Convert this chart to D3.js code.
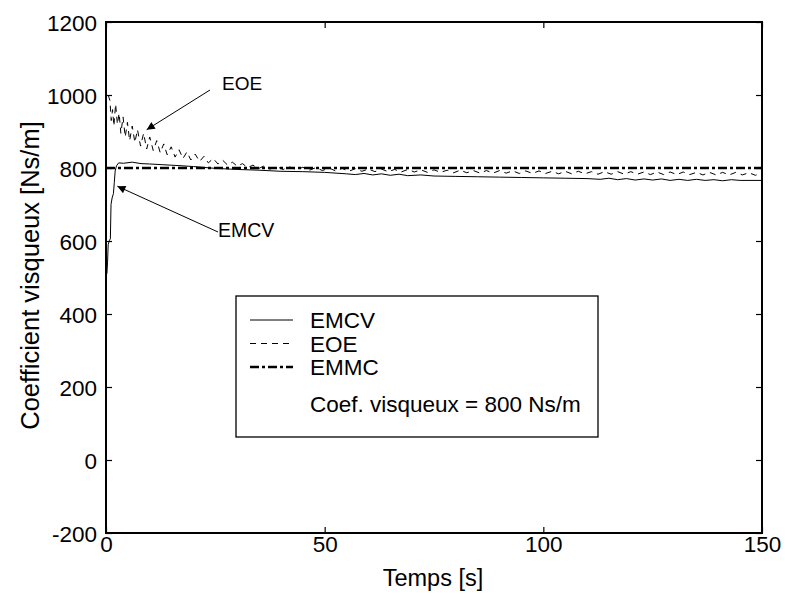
<!DOCTYPE html>
<html>
<head>
<meta charset="utf-8">
<script src="https://cdn.jsdelivr.net/npm/d3@7"></script>
<style>
  html, body { margin: 0; padding: 0; background: #fff; }
  svg { display: block; }
  text { font-family: "Liberation Sans", Arial, Helvetica, sans-serif; fill: #000; }
</style>
</head>
<body>
<svg id="chart" width="785" height="596"></svg>
<script>
// Axis settings
const xTicks = [0, 50, 100, 150];
const yTicks = [-200, 0, 200, 400, 600, 800, 1000, 1200];
const xDomain = [0, 150];
const yDomain = [-200, 1200];

// EMCV estimate [time s, coefficient Ns/m]
const emcv = [
  [0.2, 510], [0.35, 540], [0.5, 590], [0.8, 602], [1.0, 606], [1.15, 700],
  [1.4, 718], [1.7, 730], [1.9, 760], [2.1, 792], [2.4, 806], [2.9, 814],
  [4, 813], [6, 816], [8, 812], [10, 811], [13, 809], [16, 807], [20, 804],
  [25, 799], [30, 796], [35, 794], [40, 791], [45, 790], [50, 788], [55, 784],
  [57, 782], [59, 785], [61, 781], [63, 784], [65, 780], [67, 783], [69, 779],
  [72, 781], [75, 778], [80, 777], [85, 776], [90, 775], [95, 774], [100, 773],
  [105, 772], [110, 771], [113, 769], [115, 772], [117, 768], [119, 771],
  [121, 767], [123, 770], [125, 767], [127, 770], [129, 766], [131, 769],
  [133, 766], [135, 769], [137, 766], [139, 768], [141, 765], [143, 768],
  [145, 766], [150, 766]
];

// EOE estimate [time s, coefficient Ns/m]
const eoe = [
  [0.5, 1000], [0.9, 985], [1.2, 930], [1.5, 960], [1.8, 915], [2.2, 975],
  [2.6, 920], [3.0, 950], [3.4, 895], [3.9, 940], [4.4, 885], [4.9, 925],
  [5.4, 875], [6.0, 915], [6.6, 870], [7.2, 905], [7.9, 860], [8.6, 895],
  [9.3, 852], [10.0, 885], [10.8, 848], [11.6, 875], [12.4, 842], [13.2, 866],
  [14.0, 836], [14.9, 858], [15.8, 830], [16.7, 850], [17.6, 826], [18.5, 844],
  [19.4, 822], [20.4, 838], [21.4, 818], [22.4, 832], [23.4, 814], [24.5, 826],
  [25.6, 811], [26.7, 821], [27.8, 808], [28.9, 816], [30.0, 805], [31.2, 812],
  [32.4, 801], [33.6, 808], [34.8, 798], [36.0, 805], [37.5, 797], [39, 804],
  [40.5, 796], [42, 803], [43.5, 795], [45, 802], [46.5, 794], [48, 801],
  [49.5, 793], [51, 800], [52.5, 792], [54, 799], [55.5, 791], [57, 798],
  [58.5, 791], [60, 797], [61.5, 790], [63, 797], [64.5, 790], [66, 796],
  [67.5, 789], [69, 796], [70.5, 789], [72, 795], [73.5, 788], [75, 795],
  [76.5, 788], [78, 794], [79.5, 787], [81, 794], [82.5, 787], [84, 793],
  [85.5, 786], [87, 793], [88.5, 786], [90, 793], [91.5, 786], [93, 792],
  [94.5, 785], [96, 792], [97.5, 785], [99, 792], [100.5, 785], [102, 791],
  [103.5, 784], [105, 791], [106.5, 784], [108, 791], [109.5, 784], [111, 790],
  [112.5, 783], [114, 790], [115.5, 783], [117, 790], [118.5, 783], [120, 790],
  [121.5, 783], [123, 789], [124.5, 782], [126, 789], [127.5, 782], [129, 789],
  [130.5, 782], [132, 789], [133.5, 782], [135, 788], [136.5, 781], [138, 788],
  [139.5, 781], [141, 788], [142.5, 781], [144, 788], [145.5, 781], [147, 787],
  [148.5, 780], [150, 787]
];

// EMMC estimate [time s, coefficient Ns/m]
const emmc = [[0, 800], [150, 800]];

// Legend entries
const legendLabels = ["EMCV", "EOE", "EMMC"];
const legendNote = "Coef. visqueux = 800 Ns/m";

const svg = d3.select("#chart");
const margin = { left: 106, top: 22, right: 23, bottom: 63 };
const W = 785 - margin.left - margin.right;
const H = 596 - margin.top - margin.bottom;

const x = d3.scaleLinear().domain(xDomain).range([0, W]);
const y = d3.scaleLinear().domain(yDomain).range([H, 0]);

const g = svg.append("g").attr("transform", `translate(${margin.left},${margin.top})`);

// Axes with inward ticks on all four sides
const tickFont = 22.5;
const plain = d => String(d);
const axB = g.append("g").attr("transform", `translate(0,${H})`)
  .call(d3.axisBottom(x).tickValues(xTicks).tickSizeInner(-6).tickSizeOuter(0).tickPadding(3).tickFormat(plain));
const axL = g.append("g")
  .call(d3.axisLeft(y).tickValues(yTicks).tickSizeInner(-6).tickSizeOuter(0).tickPadding(9).tickFormat(plain));
const axT = g.append("g")
  .call(d3.axisTop(x).tickValues(xTicks).tickSizeInner(-6).tickSizeOuter(0).tickFormat(""));
const axR = g.append("g").attr("transform", `translate(${W},0)`)
  .call(d3.axisRight(y).tickValues(yTicks).tickSizeInner(-6).tickSizeOuter(0).tickFormat(""));

[axB, axL, axT, axR].forEach(a => {
  a.select(".domain").remove();
  a.selectAll("line").attr("stroke", "#000").attr("stroke-width", 1.2);
  a.selectAll("text").style("font-size", tickFont + "px").attr("fill", "#000");
});
axB.selectAll("text").attr("dy", "0.71em");
axL.selectAll("text").attr("dy", "0.36em");

// Frame
g.append("rect").attr("x", 0).attr("y", 0).attr("width", W).attr("height", H)
  .attr("fill", "none").attr("stroke", "#000").attr("stroke-width", 2);

// Axis titles
g.append("text").attr("x", W / 2 - 1).attr("y", H + 53)
  .attr("text-anchor", "middle").style("font-size", "23.5px").text("Temps [s]");
svg.append("text")
  .attr("transform", `translate(39,${margin.top + H / 2 - 2}) rotate(-90)`)
  .attr("text-anchor", "middle").style("font-size", "25.5px")
  .text("Coefficient visqueux [Ns/m]");

const line = d3.line().x(d => x(d[0])).y(d => y(d[1]));

g.append("clipPath").attr("id", "plotclip")
  .append("rect").attr("width", W).attr("height", H);
const plot = g.append("g").attr("clip-path", "url(#plotclip)");

plot.append("path").datum(eoe).attr("d", line)
  .attr("fill", "none").attr("stroke", "#000").attr("stroke-width", 1)
  .attr("stroke-dasharray", "6,5");
plot.append("path").datum(emcv).attr("d", line)
  .attr("fill", "none").attr("stroke", "#000").attr("stroke-width", 1);
plot.append("path").datum(emmc).attr("d", line)
  .attr("fill", "none").attr("stroke", "#000").attr("stroke-width", 2.6)
  .attr("stroke-dasharray", "9,3,3,3");

// Annotations with arrows
const defs = svg.append("defs");
defs.append("marker").attr("id", "arrowhead")
  .attr("viewBox", "0 0 10 10").attr("refX", 10).attr("refY", 5)
  .attr("markerWidth", 13).attr("markerHeight", 8).attr("markerUnits", "userSpaceOnUse")
  .attr("orient", "auto")
  .append("path").attr("d", "M0,0 L10,5 L0,10 Z").attr("fill", "#000");

function annotate(label, tx, ty, size, from, toT, toV) {
  g.append("text").attr("x", tx).attr("y", ty)
    .style("font-size", size + "px").text(label);
  g.append("line")
    .attr("x1", from[0]).attr("y1", from[1])
    .attr("x2", x(toT)).attr("y2", y(toV))
    .attr("stroke", "#000").attr("stroke-width", 1)
    .attr("marker-end", "url(#arrowhead)");
}
annotate("EOE", 116, 68, 19, [104, 68], 9.3, 905);
annotate("EMCV", 112, 215, 19.5, [112, 210], 2.6, 750);

// Legend
const lg = g.append("g").attr("transform", "translate(130,274)");
lg.append("rect").attr("width", 362).attr("height", 141)
  .attr("fill", "#fff").attr("stroke", "#000").attr("stroke-width", 1.3);
const styles = [
  { w: 1, dash: null },
  { w: 1, dash: "6,5" },
  { w: 2.6, dash: "9,3,3,3" }
];
const legendFont = 22.5;
legendLabels.forEach((lab, i) => {
  const yy = 24 + i * 23.5;
  lg.append("line").attr("x1", 14).attr("x2", 57).attr("y1", yy).attr("y2", yy)
    .attr("stroke", "#000").attr("stroke-width", styles[i].w)
    .attr("stroke-dasharray", styles[i].dash);
  lg.append("text").attr("x", 74).attr("y", yy).attr("dy", "0.36em")
    .style("font-size", legendFont + "px").text(lab);
});
lg.append("text").attr("x", 74).attr("y", 108).attr("dy", "0.36em")
  .style("font-size", legendFont + "px").text(legendNote);
</script>
</body>
</html>
